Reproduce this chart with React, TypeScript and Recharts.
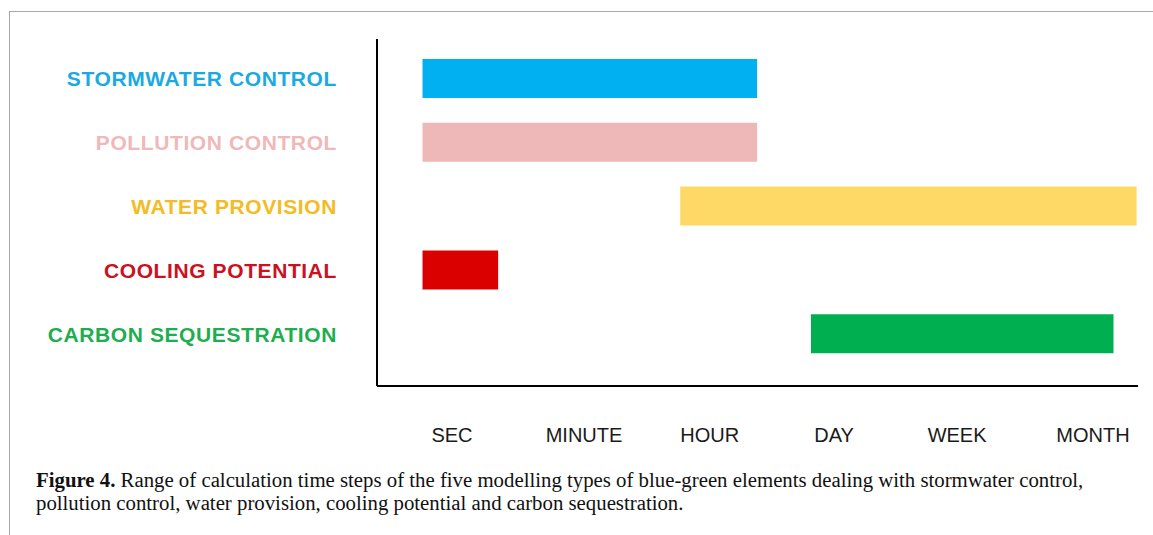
import { BarChart, Bar, XAxis, YAxis, Cell } from 'recharts';

// modelling types (top to bottom)
const CATEGORIES = [
  'STORMWATER CONTROL',
  'POLLUTION CONTROL',
  'WATER PROVISION',
  'COOLING POTENTIAL',
  'CARBON SEQUESTRATION',
];
// range of time steps, in "time step units" (SEC = 0 ... MONTH = 5)
const RANGE_START = [-0.23, -0.23, 1.78, -0.23, 2.8];
const RANGE_END = [2.38, 2.38, 5.34, 0.36, 5.16];

const BAR_COLORS = ['#00B0F0', '#EEB8B8', '#FFD966', '#DA0000', '#00B050'];
const LABEL_COLORS = ['#1AAAE2', '#F0B8B8', '#F5BB22', '#CC1020', '#1DAE4F'];

const TIME_STEPS = ['SEC', 'MINUTE', 'HOUR', 'DAY', 'WEEK', 'MONTH'];
const TIME_POS = [0, 1.03, 2.01, 2.98, 3.94, 5];

const data = CATEGORIES.map((name, i) => ({
  name,
  range: [RANGE_START[i], RANGE_END[i]],
}));

const CategoryTick = ({ x, y, payload, index }: any) => (
  <text
    x={x}
    y={y}
    dy={7.5}
    textAnchor="end"
    fill={LABEL_COLORS[index]}
    fontFamily="'Liberation Sans', Arial, sans-serif"
    fontWeight="bold"
    fontSize={21}
    letterSpacing={0.6}
  >
    {payload.value}
  </text>
);

const TimeTick = ({ x, y, index }: any) => (
  <text
    x={x}
    y={y}
    textAnchor="middle"
    fill="#1a1a1a"
    fontFamily="'Liberation Sans', Arial, sans-serif"
    fontSize={20}
  >
    {TIME_STEPS[index]}
  </text>
);

export default function App() {
  return (
    <div
      style={{
        position: 'absolute',
        left: 0,
        top: 0,
        width: 1153,
        height: 535,
        background: '#fff',
        overflow: 'hidden',
      }}
    >
      {/* frame of the figure */}
      <div
        style={{
          position: 'absolute',
          left: 9,
          top: 11,
          width: 1144,
          height: 524,
          borderTop: '1px solid #a8a8a8',
          borderLeft: '1px solid #a8a8a8',
          boxSizing: 'border-box',
        }}
      />
      <div style={{ position: 'absolute', left: 0, top: 0 }}>
        <BarChart
          width={1153}
          height={466}
          data={data}
          layout="vertical"
          margin={{ top: 39, right: 15, bottom: 0, left: 0 }}
        >
          <XAxis
            type="number"
            domain={[-0.585, 5.351]}
            allowDataOverflow
            ticks={TIME_POS}
            interval={0}
            tickLine={false}
            tickSize={0}
            tickMargin={56}
            height={80}
            axisLine={{ stroke: '#000', strokeWidth: 2 }}
            tick={<TimeTick />}
          />
          <YAxis
            type="category"
            dataKey="name"
            width={377}
            padding={{ top: 8, bottom: 20 }}
            tickLine={false}
            tickSize={0}
            tickMargin={40}
            interval={0}
            axisLine={{ stroke: '#000', strokeWidth: 2 }}
            tick={<CategoryTick />}
          />
          <Bar dataKey="range" barSize={39} isAnimationActive={false}>
            {data.map((entry, index) => (
              <Cell key={`cell-${index}`} fill={BAR_COLORS[index]} />
            ))}
          </Bar>
        </BarChart>
      </div>
      <div
        style={{
          position: 'absolute',
          left: 36,
          top: 468,
          fontFamily: "'Liberation Serif', 'Times New Roman', serif",
          fontSize: 20.8,
          lineHeight: '23px',
          color: '#111',
          whiteSpace: 'nowrap',
        }}
      >
        <b>Figure 4.</b> Range of calculation time steps of the five modelling types of blue-green elements dealing with stormwater control,
        <br />
        pollution control, water provision, cooling potential and carbon sequestration.
      </div>
    </div>
  );
}
